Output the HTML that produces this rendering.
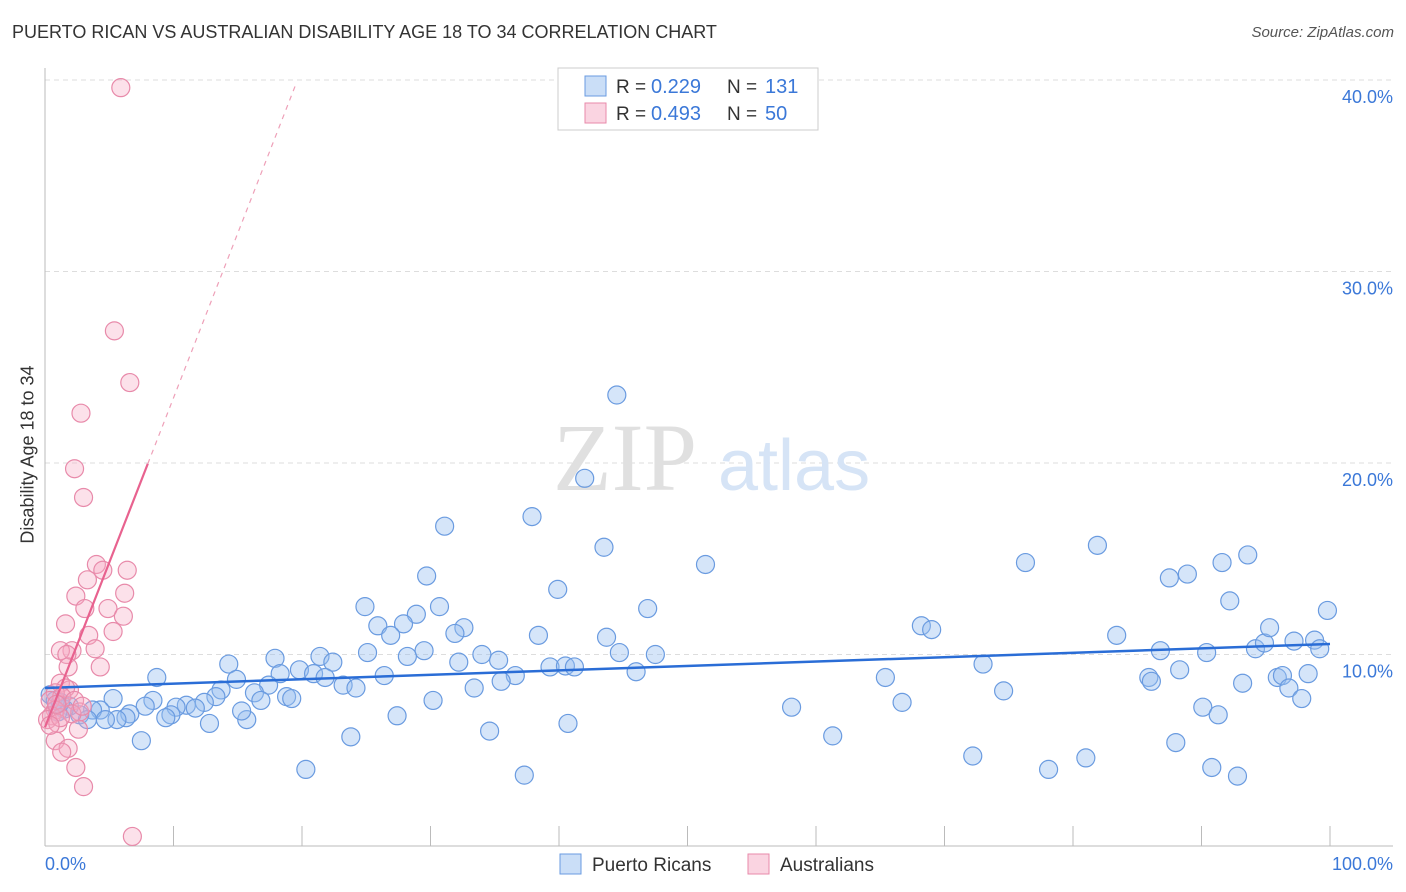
<!DOCTYPE html>
<html><head><meta charset="utf-8"><style>
body{margin:0;background:#fff;font-family:"Liberation Sans",sans-serif;}
#wrap{position:relative;width:1406px;height:892px;overflow:hidden;}
.t{position:absolute;white-space:nowrap;}
</style></head><body>
<div id="wrap">
<div class="t" style="left:12px;top:22px;font-size:18px;color:#333;">PUERTO RICAN VS AUSTRALIAN DISABILITY AGE 18 TO 34 CORRELATION CHART</div>
<div class="t" style="right:12px;top:24px;font-size:15px;color:#555;font-style:italic;">Source: ZipAtlas.com</div>
<div class="t" style="left:-62px;top:444px;font-size:18px;color:#333;transform:rotate(-90deg);width:180px;text-align:center;">Disability Age 18 to 34</div>
<svg id="svg" width="1406" height="892" style="position:absolute;left:0;top:0"></svg>
</div>
<script>
const blueX=[44.5,42.0,31.1,37.9,43.5,51.4,29.7,39.9,24.9,30.7,46.9,28.9,27.9,25.9,32.6,31.9,26.9,38.4,43.7,17.9,21.4,22.4,25.1,29.5,28.2,34.0,35.3,32.2,14.3,19.8,8.7,18.3,20.9,21.8,26.4,23.2,24.2,36.6,35.5,33.4,39.3,40.5,41.2,44.7,47.5,46.0,17.4,16.3,14.9,13.7,13.3,12.4,11.0,10.2,8.4,7.8,5.3,4.3,3.7,2.7,1.9,1.5,1.0,0.4,0.8,1.2,6.6,6.3,5.6,4.7,3.3,9.8,9.4,11.7,12.8,15.7,15.3,16.8,18.8,19.2,27.4,30.2,7.5,23.8,20.3,34.6,37.3,40.7,58.1,61.3,65.4,66.7,68.2,69.0,73.0,74.6,72.2,76.3,78.1,81.0,81.9,83.4,85.9,86.1,86.8,87.5,88.9,88.3,88.0,90.4,90.1,90.8,91.3,91.6,92.2,92.8,93.2,93.6,94.2,94.9,95.3,95.9,96.3,96.8,97.2,97.8,98.3,98.8,99.2,99.8];
const blueY=[23.55,19.2,16.7,17.2,15.6,14.7,14.1,13.4,12.5,12.5,12.4,12.1,11.6,11.5,11.4,11.1,11.0,11.0,10.9,9.8,9.9,9.6,10.1,10.2,9.9,10.0,9.7,9.6,9.5,9.2,8.8,9.0,9.0,8.8,8.9,8.4,8.25,8.9,8.6,8.25,9.35,9.4,9.35,10.1,10.0,9.1,8.4,8.0,8.7,8.15,7.8,7.5,7.35,7.25,7.6,7.3,7.7,7.1,7.1,6.85,7.3,7.15,7.0,7.9,7.6,7.5,6.9,6.7,6.6,6.6,6.6,6.85,6.7,7.2,6.4,6.6,7.05,7.6,7.8,7.7,6.8,7.6,5.5,5.7,4.0,6.0,3.7,6.4,7.25,5.75,8.8,7.5,11.5,11.3,9.5,8.1,4.7,14.8,4.0,4.6,15.7,11.0,8.8,8.6,10.2,14.0,14.2,9.2,5.4,10.1,7.25,4.1,6.85,14.8,12.8,3.65,8.5,15.2,10.3,10.6,11.4,8.8,8.9,8.25,10.7,7.7,9.0,10.75,10.3,12.3];
const pinkX=[5.9,5.4,6.6,2.8,2.3,3.0,4.0,4.5,6.4,3.3,2.4,6.2,3.1,4.9,6.1,1.6,3.4,5.3,2.1,1.2,3.9,1.7,1.8,4.3,1.2,1.9,1.6,0.8,1.3,0.4,2.3,0.8,0.5,2.7,0.2,1.0,2.1,2.9,1.2,0.8,2.6,1.8,1.3,2.4,3.0,6.8,0.4,0.9];
const pinkY=[39.6,26.9,24.2,22.6,19.7,18.2,14.7,14.4,14.4,13.9,13.05,13.2,12.4,12.4,12.0,11.6,11.0,11.2,10.2,10.2,10.3,10.0,9.35,9.35,8.5,8.15,8.25,8.0,7.8,7.6,7.6,7.1,6.8,7.0,6.6,6.4,6.9,7.3,6.7,5.5,6.1,5.1,4.9,4.1,3.1,0.5,6.3,7.4];
const blueTrend=[8.25,10.55];
const pinkTrend=[6.2,1.72];
const yTicks=[10,20,30,40];
const yTickLabels=["10.0%","20.0%","30.0%","40.0%"];

const NS="http://www.w3.org/2000/svg";
const svg=document.getElementById('svg');
const X=v=>45+v*12.85;
const Y=v=>846-v*19.15;
function mk(tag,attrs){const e=document.createElementNS(NS,tag);for(const k in attrs)e.setAttribute(k,attrs[k]);svg.appendChild(e);return e;}
function txt(s,x,y,attrs){const e=mk('text',Object.assign({x:x,y:y,'font-family':'Liberation Sans, sans-serif'},attrs));e.textContent=s;return e;}

// gridlines
yTicks.forEach((t,i)=>{
  const g=mk('line',{x1:45,x2:1393,y1:Y(t),y2:Y(t),stroke:'#ddd','stroke-dasharray':'5,4'});
  
  
  const l=txt(yTickLabels[i],1393,Y(t)+23,{'font-size':18,fill:'#3b78d8','text-anchor':'end'});
  
  
});
// axes
let a=mk('line',{x1:45,x2:45,y1:68,y2:846,stroke:'#bbb'});


a=mk('line',{x1:45,x2:1393,y1:846,y2:846,stroke:'#bbb'});


for(let i=1;i<=10;i++){
  const tk=mk('line',{x1:X(i*10),x2:X(i*10),y1:826,y2:846,stroke:'#bbb'});
  
  
}
let xl=txt('0.0%',45,870,{'font-size':18,fill:'#3b78d8'});


xl=txt('100.0%',1393,870,{'font-size':18,fill:'#3b78d8','text-anchor':'end'});



// watermark
let w=txt('ZIP',553,490,{'font-size':96,fill:'#e0e0e0','font-family':'Liberation Serif, serif'});


w=txt('atlas',718,490,{'font-size':72,fill:'#d6e4f6'});



// points
blueX.forEach((x,i)=>{
  const c=mk('circle',{cx:X(x),cy:Y(blueY[i]),r:9,fill:'rgba(150,190,240,0.4)',stroke:'#6a9be0','stroke-width':1.2});
  
  
});
pinkX.forEach((x,i)=>{
  const c=mk('circle',{cx:X(x),cy:Y(pinkY[i]),r:9,fill:'rgba(245,170,195,0.35)',stroke:'#e88aaa','stroke-width':1.2});
  
  
});
// trends
let tl=mk('line',{x1:X(0),y1:Y(blueTrend[0]),x2:X(100),y2:Y(blueTrend[1]),stroke:'#2a6dd6','stroke-width':2.5});


const pEnd=8.0, pDash=19.5;
tl=mk('line',{x1:X(0),y1:Y(pinkTrend[0]),x2:X(pEnd),y2:Y(pinkTrend[0]+pinkTrend[1]*pEnd),stroke:'#e8628f','stroke-width':2.2});


tl=mk('line',{x1:X(pEnd),y1:Y(pinkTrend[0]+pinkTrend[1]*pEnd),x2:X(pDash),y2:Y(pinkTrend[0]+pinkTrend[1]*pDash),stroke:'#eea0b8','stroke-width':1.2,'stroke-dasharray':'5,5'});



// legend box
let lb=mk('rect',{x:558,y:68,width:260,height:62,fill:'#fff',stroke:'#ccc'});


[[0,'rgba(150,190,240,0.5)','#6a9be0','0.229','131'],[1,'rgba(245,170,195,0.5)','#e88aaa','0.493','50']].forEach(r=>{
  const yy=86+r[0]*27;
  const s=mk('rect',{x:585,y:yy-10,width:21,height:20,fill:r[1],stroke:r[2]});
  
  
  let t=txt('R = ',616,yy+7,{'font-size':19,fill:'#333'});
  
  
  t=txt(r[3],651,yy+7,{'font-size':20,fill:'#3b78d8'});
  
  
  t=txt('N = ',727,yy+7,{'font-size':19,fill:'#333'});
  
  
  t=txt(r[4],765,yy+7,{'font-size':20,fill:'#3b78d8'});
  
  
});
// bottom legend
[[560,'rgba(150,190,240,0.5)','#6a9be0','Puerto Ricans',592],[748,'rgba(245,170,195,0.5)','#e88aaa','Australians',780]].forEach(r=>{
  const s=mk('rect',{x:r[0],y:854,width:21,height:20,fill:r[1],stroke:r[2]});
  
  
  const t=txt(r[3],r[4],871,{'font-size':19,fill:'#333'});
  
  
});
</script>
</body></html>
